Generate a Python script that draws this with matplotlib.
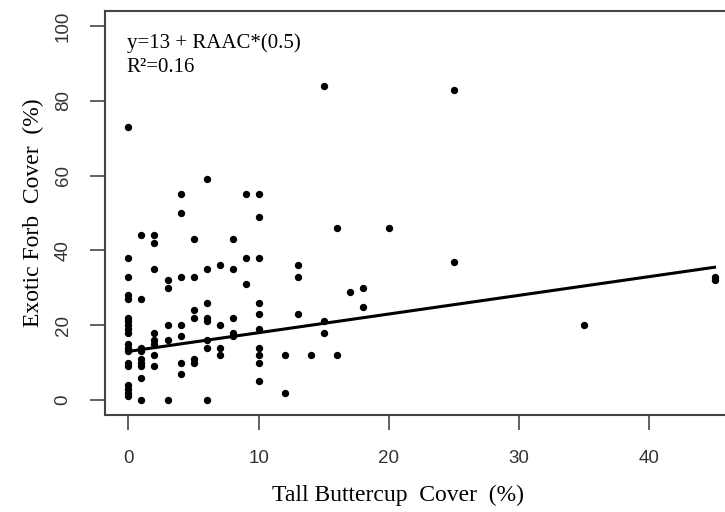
import numpy as np
import matplotlib
matplotlib.use("Agg")
import matplotlib.pyplot as plt

# ---- data (tall buttercup cover vs exotic forb cover, %) ----
x_0 = [0] * 19
y_0 = [73, 38, 33, 28, 27, 22, 21, 20, 19, 18, 15, 14, 13, 10, 9, 4, 3, 2, 1]
x_1 = [1] * 9
y_1 = [44, 27, 14, 13, 11, 10, 9, 6, 0]
x_2 = [2] * 8
y_2 = [44, 42, 35, 18, 16, 15, 12, 9]
x_3 = [3] * 5
y_3 = [32, 30, 20, 16, 0]
x_4 = [4] * 7
y_4 = [55, 50, 33, 20, 17, 10, 7]
x_5 = [5] * 6
y_5 = [43, 33, 24, 22, 11, 10]
x_6 = [6] * 8
y_6 = [59, 35, 26, 22, 21, 16, 14, 0]
x_7 = [7] * 4
y_7 = [36, 20, 14, 12]
x_8 = [8] * 5
y_8 = [43, 35, 22, 18, 17]
x_9 = [9] * 3
y_9 = [55, 38, 31]
x_10 = [10] * 10
y_10 = [55, 49, 38, 26, 23, 19, 14, 12, 10, 5]
x_rest = [12, 12, 13, 13, 13, 14, 15, 15, 15, 16, 16, 17, 18, 18, 20, 25, 25, 35, 45, 45]
y_rest = [12, 2, 36, 33, 23, 12, 84, 21, 18, 46, 12, 29, 30, 25, 46, 83, 37, 20, 33, 32]

buttercup = np.array(x_0 + x_1 + x_2 + x_3 + x_4 + x_5 + x_6 + x_7 + x_8 + x_9 + x_10 + x_rest)
forb = np.array(y_0 + y_1 + y_2 + y_3 + y_4 + y_5 + y_6 + y_7 + y_8 + y_9 + y_10 + y_rest)

# regression reported on the chart
intercept = 13
slope = 0.5
r2 = 0.16

xticks = [0, 10, 20, 30, 40]
yticks = [0, 20, 40, 60, 80, 100]

# ---- figure ----
fig = plt.figure(figsize=(7.25, 5.12), dpi=100)
ax = fig.add_axes([105 / 725, 97 / 512, 633 / 725, 404 / 512])

ax.scatter(buttercup, forb, s=28, color="black", zorder=3, linewidths=0)

line_x = np.array([0, buttercup.max()])
ax.plot(line_x, intercept + slope * line_x, color="black", linewidth=2.2, zorder=2)

ax.set_xlim(-1.8, 46.8)
ax.set_ylim(-4, 104)

for s in ax.spines.values():
    s.set_color("#444444")
    s.set_linewidth(1.5)

ax.set_xticks(xticks)
ax.set_yticks(yticks)
ax.set_yticklabels([str(v) for v in yticks], rotation=90, va="center")
ax.tick_params(axis="both", direction="out", length=11, width=1.3, color="#555555",
               labelsize=13.5, labelcolor="#333333")
ax.tick_params(axis="x", pad=14)
ax.tick_params(axis="y", pad=13)
for lab in ax.get_xticklabels() + ax.get_yticklabels():
    lab.set_fontfamily("Liberation Sans")

ax.set_xlabel("Tall Buttercup  Cover  (%)", family="Liberation Serif", fontsize=17)
ax.set_ylabel("Exotic Forb  Cover  (%)", family="Liberation Serif", fontsize=17)
ax.xaxis.set_label_coords(0.463, -0.174)
ax.yaxis.set_label_coords(-0.097, 0.5)

ax.text(0.034, 0.921, f"y={intercept} + RAAC*({slope})", transform=ax.transAxes,
        family="Liberation Serif", fontsize=15, va="center", ha="left")
ax.text(0.034, 0.861, f"R\u00b2={r2}", transform=ax.transAxes,
        family="Liberation Serif", fontsize=15, va="center", ha="left")

fig.savefig("out.png", dpi=100)
